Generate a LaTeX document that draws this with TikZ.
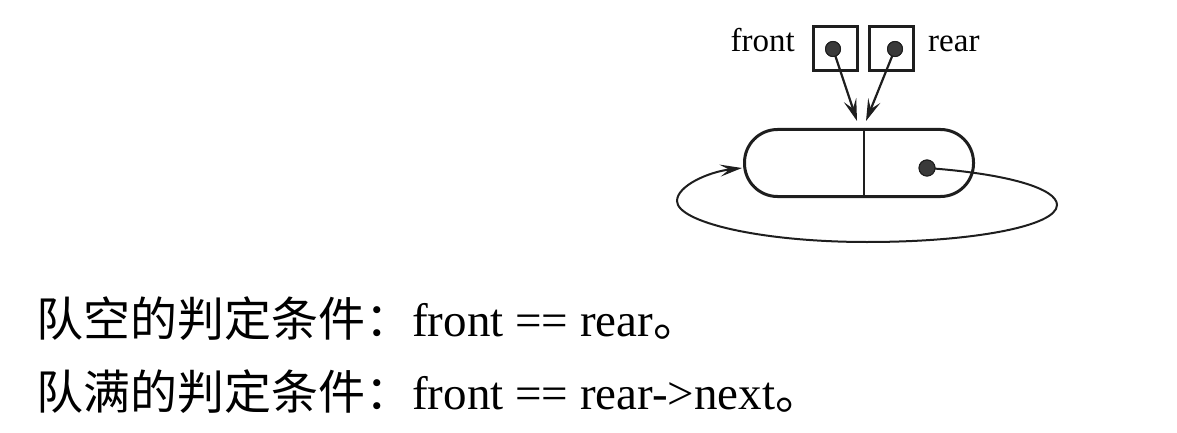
\documentclass[tikz,border=0pt]{standalone}
\usepackage{fontspec}
\setmainfont{Liberation Serif}
\newfontfamily\cjk{Noto Sans CJK SC}
\usetikzlibrary{arrows.meta}
\definecolor{ink}{HTML}{1E1E1E}
\definecolor{dotfill}{HTML}{3A3A3A}
\tikzset{
  ptrbox/.style={draw=ink, line width=3pt, minimum size=44pt, inner sep=0pt},
  dotnode/.style={circle, draw=ink, line width=1pt, fill=dotfill, minimum size=15pt, inner sep=0pt},
  capsule/.style={draw=ink, line width=3pt, rounded corners=33pt, minimum width=229pt, minimum height=67pt, inner sep=0pt},
  capline/.style={draw=ink, line width=2pt},
  ptrarrow/.style={draw=ink, line width=2.2pt, -{Stealth[length=22pt,width=13pt,inset=9pt]}},
  ringline/.style={draw=ink, line width=2pt, -{Stealth[length=22pt,width=12pt,inset=9pt]}},
  lbl/.style={inner sep=0pt, font=\fontsize{33}{40}\selectfont},
  textline/.style={inner sep=0pt, font=\fontsize{47}{56}\selectfont}
}
\begin{document}
\begin{tikzpicture}[x=1pt, y=-1pt]
  \useasboundingbox (0,0) rectangle (1177,433);
  % pointer boxes
  \node[ptrbox] (fbox) at (835,48.5) {};
  \node[ptrbox] (rbox) at (891.5,48.5) {};
  \node[lbl, anchor=base east] (flbl) at (795,52) {front};
  \node[lbl, anchor=base west] (rlbl) at (928,52) {rear};
  % capsule node
  \node[capsule] (cap) at (859,163) {};
  \draw[capline] ([xshift=5pt]cap.north) -- ([xshift=5pt]cap.south);
  % targets
  \coordinate (ft) at (857,121);
  \coordinate (rt) at (866,121);
  \coordinate (ctip) at (742,168);
  % dots
  \node[dotnode] (fdot) at (833,49) {};
  \node[dotnode] (rdot) at (895,49) {};
  \node[dotnode, minimum size=16pt] (cdot) at (927,168) {};
  % arrows
  \draw[ptrarrow] (fdot.center) -- (ft);
  \draw[ptrarrow] (rdot.center) -- (rt);
  \draw[ringline] (cdot.center) .. controls (1010,174) and (1057,189) .. (1057,205)
        .. controls (1057,226) and (973,242) .. (867,242)
        .. controls (760,242) and (677,222) .. (677,201)
        .. controls (677,186) and (708,172) .. (ctip);
  \node[dotnode] at (fdot) {};
  \node[dotnode] at (rdot) {};
  \node[dotnode, minimum size=16pt] at (cdot) {};
  % text lines
  \node[textline, anchor=base west] (l1) at (36,336) {{\cjk 队空的判定条件：}front == rear{\cjk 。}};
  \node[textline, anchor=base west] (l2) at (36,409) {{\cjk 队满的判定条件：}front == rear->next{\cjk 。}};
\end{tikzpicture}
\end{document}
